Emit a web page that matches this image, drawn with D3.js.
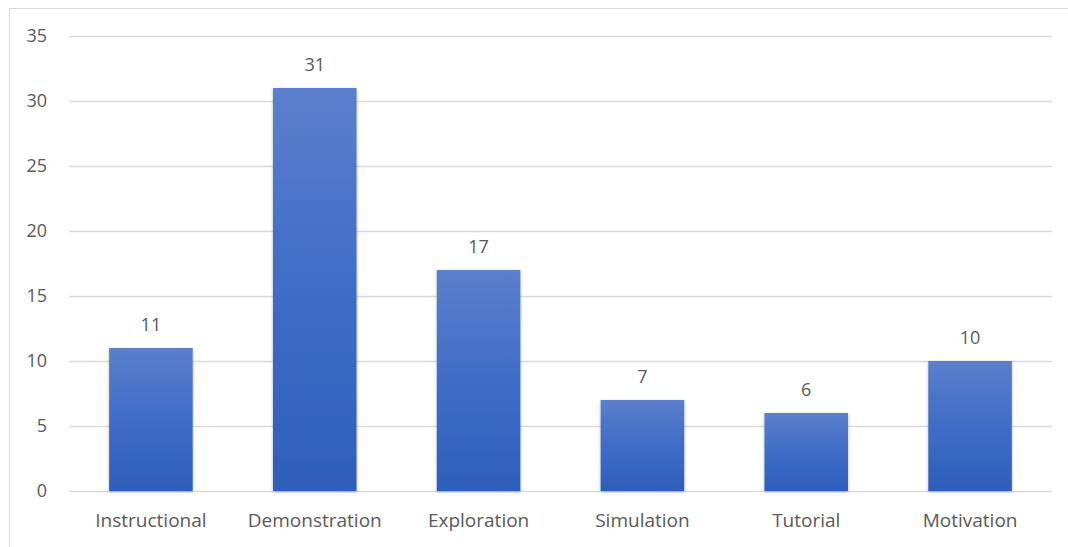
<html>
<script src='https://d3js.org/d3.v7.min.js'></script>
<style>
body {margin:0; background:#fff;}
text {font-family: 'Open Sans', 'Noto Sans', sans-serif; fill:#595959;}
</style>
<body onload='init()'>
<svg width=1068 height=547></svg>
<script>
const categories = ['Instructional','Demonstration','Exploration','Simulation','Tutorial','Motivation'];
const counts = [11,31,17,7,6,10];
const yTicks = [0,5,10,15,20,25,30,35];

function init() {
const svg = d3.select('svg');
const left = 69, right = 1052, top = 36, bottom = 491;

// frame (right and bottom edges fall outside the picture)
svg.append('rect')
    .attr('x',9.5).attr('y',8.5)
    .attr('width',1100).attr('height',600)
    .attr('fill','none').attr('stroke','#d9d9d9');

const x = d3.scaleBand().domain(categories).range([left,right]).paddingInner(0.49).paddingOuter(0.245);
const y = d3.scaleLinear().domain([0,35]).range([bottom,top]);

const defs = svg.append('defs');
const grad = defs.append('linearGradient').attr('id','barfill')
    .attr('x1',0).attr('y1',0).attr('x2',0).attr('y2',1);
grad.append('stop').attr('offset','0%').attr('stop-color','#5b7fcc');
grad.append('stop').attr('offset','50%').attr('stop-color','#3f6dc7');
grad.append('stop').attr('offset','100%').attr('stop-color','#2d5fba');
const f = defs.append('filter').attr('id','shadow').attr('x','-20%').attr('y','-5%').attr('width','140%').attr('height','115%');
f.append('feDropShadow').attr('dx',0).attr('dy',1).attr('stdDeviation',1.5)
    .attr('flood-color','#000').attr('flood-opacity',0.3);

const yAxis = d3.axisLeft(y).tickValues(yTicks).tickSize(-(right-left)).tickPadding(22);
svg.append('g')
    .attr('transform','translate('+left+',0)')
    .call(yAxis)
    .call(g => g.select('.domain').remove())
    .call(g => g.selectAll('.tick line').attr('stroke','#d9d9d9').attr('stroke-width',1.3))
    .call(g => g.selectAll('.tick text').attr('font-size',18).style('fill','#595959'));

svg.append('g').selectAll('text')
    .data(counts)
    .enter()
    .append('text')
      .attr('x',(d,i) => x(categories[i]) + x.bandwidth()/2)
      .attr('y',d => y(d) - 17)
      .attr('text-anchor','middle')
      .attr('font-size',18)
      .text(d => d);

svg.append('g').selectAll('rect')
    .data(counts)
    .enter()
    .append('rect')
      .attr('x',(d,i) => x(categories[i]))
      .attr('y',d => y(d))
      .attr('width',x.bandwidth())
      .attr('height',d => bottom - y(d))
      .attr('fill','url(#barfill)')
      .attr('filter','url(#shadow)');

const xAxis = d3.axisBottom(x).tickSize(0).tickPadding(23);
svg.append('g')
    .attr('transform','translate(0,'+bottom+')')
    .call(xAxis)
    .call(g => g.select('.domain').remove())
    .call(g => g.selectAll('.tick text').attr('font-size',19).style('fill','#595959'));
}
</script>
</body>
</html>
